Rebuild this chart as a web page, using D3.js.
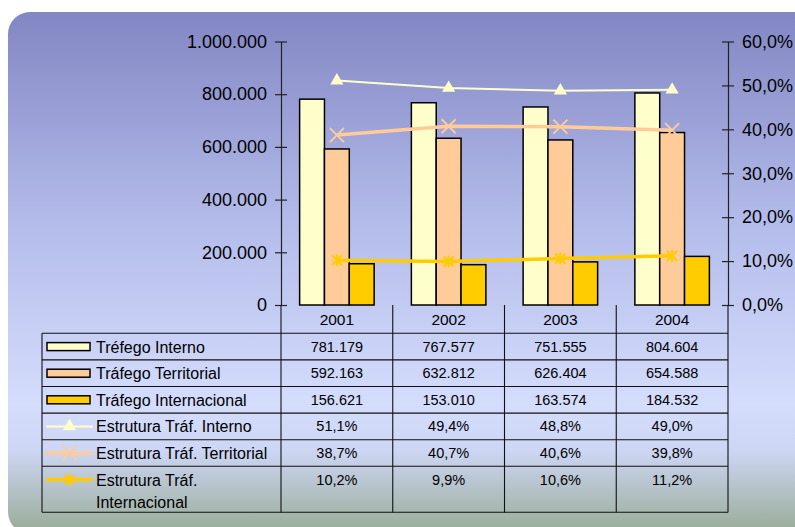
<!DOCTYPE html>
<html>
<head>
<meta charset="utf-8">
<script src="https://cdn.jsdelivr.net/npm/d3@7"></script>
<style>
  body { margin: 0; background: #ffffff; }
  svg { display: block; font-family: "Liberation Sans", Arial, sans-serif; }
</style>
</head>
<body>
<div id="chart"></div>
<script>
// data
var years = ["2001", "2002", "2003", "2004"];
var trafInterno = [781179, 767577, 751555, 804604];
var trafTerritorial = [592163, 632812, 626404, 654588];
var trafInternacional = [156621, 153010, 163574, 184532];
var estInterno = [0.511, 0.494, 0.488, 0.490];
var estTerritorial = [0.387, 0.407, 0.406, 0.398];
var estInternacional = [0.102, 0.099, 0.106, 0.112];
var leftTicks = [0, 200000, 400000, 600000, 800000, 1000000];
var rightTicks = [0, 0.1, 0.2, 0.3, 0.4, 0.5, 0.6];

var barSeries = [
    { name: "Tréfego Interno", values: trafInterno, color: "#ffffcc" },
    { name: "Tráfego Territorial", values: trafTerritorial, color: "#ffcc99" },
    { name: "Tráfego Internacional", values: trafInternacional, color: "#ffcc00" }
];
var lineSeries = [
    { name: ["Estrutura Tráf. Interno"], values: estInterno, color: "#ffffcc", width: 2, marker: "triangle" },
    { name: ["Estrutura Tráf. Territorial"], values: estTerritorial, color: "#ffcc99", width: 3.5, marker: "x" },
    { name: ["Estrutura Tráf.", "Internacional"], values: estInternacional, color: "#ffcc00", width: 3.5, marker: "star" }
];

var W = 795, H = 527;
var svg = d3.select("#chart").append("svg").attr("width", W).attr("height", H);

// pt locale: 1.000.000 and 60,0%
var pt = d3.formatLocale({ decimal: ",", thousands: ".", grouping: [3], currency: ["", "€"] });
var fmtNum = pt.format(",d");
var fmtPct = pt.format(".1%");

// background panel
var defs = svg.append("defs");
var grad = defs.append("linearGradient").attr("id", "bg").attr("x1", 0).attr("y1", 0).attr("x2", 0).attr("y2", 1);
grad.append("stop").attr("offset", "0").attr("stop-color", "#8286c3");
grad.append("stop").attr("offset", "0.4").attr("stop-color", "#b3bbea");
grad.append("stop").attr("offset", "0.75").attr("stop-color", "#d4ddfc");
grad.append("stop").attr("offset", "0.84").attr("stop-color", "#cdd6f4");
grad.append("stop").attr("offset", "1").attr("stop-color", "#98ab96");

svg.append("rect")
    .attr("x", 8).attr("y", 12)
    .attr("width", 810).attr("height", 522)
    .attr("rx", 22).attr("ry", 22)
    .attr("fill", "url(#bg)");

var plotLeft = 281, plotRight = 728, plotTop = 41.5, plotBottom = 305;

var x = d3.scaleBand().domain(years).range([plotLeft, plotRight]);
var x1 = d3.scaleBand().domain(d3.range(barSeries.length)).range([0, x.bandwidth()]).paddingOuter(0.75);
var y = d3.scaleLinear().domain([0, 1000000]).range([plotBottom, plotTop]);
var yR = d3.scaleLinear().domain([0, 0.6]).range([plotBottom, plotTop]);

// bars
barSeries.forEach(function (s, i) {
    svg.append("g").selectAll("rect")
        .data(s.values)
        .enter().append("rect")
        .attr("x", function (d, j) { return x(years[j]) + x1(i); })
        .attr("y", function (d) { return y(d); })
        .attr("width", x1.bandwidth())
        .attr("height", function (d) { return y(0) - y(d); })
        .attr("fill", s.color)
        .attr("stroke", "#000")
        .attr("stroke-width", 1.5);
});

// axes
var gL = svg.append("g")
    .attr("transform", "translate(" + plotLeft + ",0)")
    .call(d3.axisLeft(y).tickValues(leftTicks).tickFormat(fmtNum).tickSize(6).tickSizeOuter(0).tickPadding(8));
gL.selectAll(".tick line").attr("x2", 6).attr("x1", -6);
var gR = svg.append("g")
    .attr("transform", "translate(" + plotRight + ",0)")
    .call(d3.axisRight(yR).tickValues(rightTicks).tickFormat(fmtPct).tickSize(6).tickSizeOuter(0).tickPadding(8));
gR.selectAll(".tick line").attr("x2", 6).attr("x1", -6);
[gL, gR].forEach(function (g) {
    g.selectAll("text").attr("font-size", 18).attr("fill", "#000").attr("font-family", "Liberation Sans, Arial, sans-serif");
    g.selectAll("line, path").attr("stroke", "#222").attr("stroke-width", 1.2);
});

// lines with markers
var cx = function (j) { return x(years[j]) + x.bandwidth() / 2; };
lineSeries.forEach(function (s) {
    var line = d3.line().x(function (d, j) { return cx(j); }).y(function (d) { return yR(d); });
    svg.append("path")
        .attr("d", line(s.values))
        .attr("fill", "none")
        .attr("stroke", s.color)
        .attr("stroke-width", s.width);
    var m = svg.append("g").selectAll("g").data(s.values).enter().append("g")
        .attr("transform", function (d, j) { return "translate(" + cx(j) + "," + yR(d) + ")"; });
    drawMarker(m, s);
});

function drawMarker(sel, s) {
    if (s.marker === "triangle") {
        sel.append("path").attr("d", d3.symbol(d3.symbolTriangle, 75)).attr("fill", s.color);
    } else if (s.marker === "x") {
        sel.append("path").attr("d", "M-7,-7L7,7M-7,7L7,-7").attr("stroke", s.color).attr("stroke-width", 1.8).attr("fill", "none");
    } else {
        sel.append("path").attr("d", "M-5,-5L5,5M-5,5L5,-5M0,-6L0,6").attr("stroke", s.color).attr("stroke-width", 2).attr("fill", "none");
    }
}

// data table
var tableLeft = 42;
var rowH = 26.6;
var headerTop = plotBottom, headerBottom = 333.3;
var rowTops = [];
var rows = barSeries.length + lineSeries.length;
for (var r = 0; r <= rows - 1; r++) rowTops.push(headerBottom + r * rowH);
var tableBottom = 512.3;
var grid = svg.append("g").attr("stroke", "#111").attr("stroke-width", 1.1);

// horizontal lines
rowTops.forEach(function (ty) {
    grid.append("line").attr("x1", tableLeft).attr("x2", plotRight).attr("y1", ty).attr("y2", ty);
});
grid.append("line").attr("x1", tableLeft).attr("x2", plotRight).attr("y1", tableBottom).attr("y2", tableBottom);
// vertical lines
grid.append("line").attr("x1", tableLeft).attr("x2", tableLeft).attr("y1", headerBottom).attr("y2", tableBottom);
years.forEach(function (yr) {
    grid.append("line").attr("x1", x(yr)).attr("x2", x(yr)).attr("y1", headerTop).attr("y2", tableBottom);
});
grid.append("line").attr("x1", plotRight).attr("x2", plotRight).attr("y1", headerTop).attr("y2", tableBottom);

// header years
svg.append("g").selectAll("text").data(years).enter().append("text")
    .attr("x", function (d) { return x(d) + x.bandwidth() / 2; })
    .attr("y", (headerTop + headerBottom) / 2 + 5.5)
    .attr("text-anchor", "middle")
    .attr("font-size", 15.5)
    .text(function (d) { return d; });

var allRows = barSeries.map(function (s) { return { s: s, kind: "bar", labels: [s.name], fmt: fmtNum }; })
    .concat(lineSeries.map(function (s) { return { s: s, kind: "line", labels: s.name, fmt: fmtPct }; }));

allRows.forEach(function (row, r) {
    var top = rowTops[r];
    var mid = top + rowH / 2;
    var g = svg.append("g");
    // legend key
    if (row.kind === "bar") {
        g.append("rect").attr("x", 47).attr("y", mid - 4).attr("width", 43).attr("height", 8)
            .attr("fill", row.s.color).attr("stroke", "#000").attr("stroke-width", 1.5);
    } else {
        g.append("line").attr("x1", 46).attr("x2", 93).attr("y1", mid).attr("y2", mid)
            .attr("stroke", row.s.color).attr("stroke-width", row.s.width);
        var mk = g.append("g").attr("transform", "translate(69.5," + mid + ")");
        drawMarker(mk, row.s);
    }
    // label
    row.labels.forEach(function (t, k) {
        g.append("text").attr("x", 96).attr("y", mid + 6 + k * 22)
            .attr("font-size", 16).text(t);
    });
    // values
    g.selectAll("text.v").data(row.s.values).enter().append("text")
        .attr("class", "v")
        .attr("x", function (d, j) { return cx(j); })
        .attr("y", mid + 5)
        .attr("text-anchor", "middle")
        .attr("font-size", 14.5)
        .text(function (d) { return row.fmt(d); });
});
</script>
</body>
</html>
